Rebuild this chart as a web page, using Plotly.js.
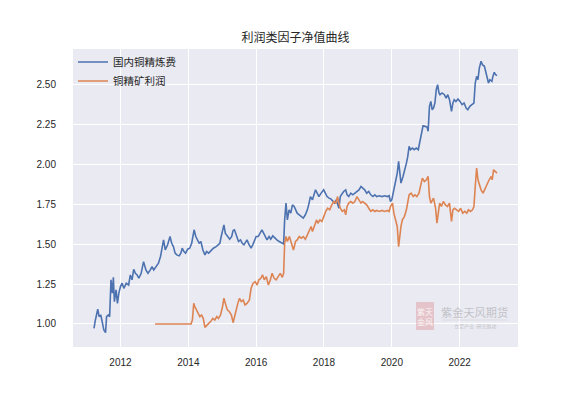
<!DOCTYPE html>
<html>
<head>
<meta charset="utf-8">
<script src="https://cdn.plot.ly/plotly-3.0.1.min.js"></script>
<style>html,body{margin:0;padding:0;background:#fff;}#chart{width:576px;height:396px;}</style>
</head>
<body>
<div id="chart"></div>
<script>
// Dates as decimal years
const refineDates = [2011.22,2011.25,2011.33,2011.37,2011.42,2011.46,2011.51,2011.56,2011.59,2011.64,2011.68,2011.72,2011.76,2011.79,2011.82,2011.87,2011.91,2011.95,2012.00,2012.05,2012.10,2012.17,2012.24,2012.29,2012.34,2012.39,2012.44,2012.49,2012.54,2012.61,2012.68,2012.75,2012.81,2012.88,2012.93,2012.98,2013.04,2013.12,2013.18,2013.27,2013.32,2013.39,2013.46,2013.51,2013.56,2013.61,2013.66,2013.73,2013.78,2013.82,2013.87,2013.92,2013.98,2014.04,2014.10,2014.14,2014.17,2014.22,2014.27,2014.32,2014.37,2014.43,2014.49,2014.54,2014.60,2014.68,2014.74,2014.82,2014.88,2014.93,2014.97,2015.01,2015.05,2015.09,2015.15,2015.22,2015.28,2015.32,2015.36,2015.42,2015.48,2015.54,2015.59,2015.64,2015.68,2015.73,2015.78,2015.85,2015.90,2015.95,2016.00,2016.06,2016.12,2016.17,2016.22,2016.26,2016.32,2016.38,2016.43,2016.49,2016.55,2016.61,2016.68,2016.75,2016.81,2016.84,2016.88,2016.92,2016.97,2017.02,2017.07,2017.12,2017.17,2017.21,2017.27,2017.33,2017.39,2017.45,2017.51,2017.56,2017.60,2017.66,2017.70,2017.75,2017.80,2017.85,2017.90,2017.95,2017.99,2018.04,2018.09,2018.15,2018.21,2018.27,2018.31,2018.36,2018.40,2018.44,2018.48,2018.53,2018.58,2018.64,2018.68,2018.73,2018.79,2018.85,2018.91,2018.97,2019.03,2019.09,2019.14,2019.20,2019.26,2019.32,2019.38,2019.44,2019.50,2019.55,2019.63,2019.71,2019.79,2019.87,2019.92,2019.96,2020.00,2020.04,2020.10,2020.16,2020.20,2020.24,2020.27,2020.33,2020.39,2020.43,2020.47,2020.51,2020.55,2020.61,2020.66,2020.72,2020.78,2020.84,2020.88,2020.92,2020.98,2021.04,2021.07,2021.11,2021.15,2021.19,2021.23,2021.27,2021.31,2021.35,2021.39,2021.42,2021.48,2021.55,2021.60,2021.65,2021.70,2021.76,2021.80,2021.84,2021.89,2021.95,2022.01,2022.07,2022.13,2022.19,2022.24,2022.30,2022.36,2022.42,2022.46,2022.50,2022.54,2022.58,2022.63,2022.67,2022.73,2022.77,2022.82,2022.85,2022.89,2022.95,2022.98,2023.02,2023.06,2023.10];
const refineValues = [0.973,1.015,1.092,1.046,1.056,1.015,0.962,0.946,1.046,1.056,1.046,1.276,1.192,1.292,1.140,1.213,1.129,1.192,1.234,1.255,1.223,1.255,1.244,1.307,1.276,1.342,1.317,1.307,1.286,1.317,1.390,1.338,1.317,1.338,1.359,1.338,1.359,1.380,1.422,1.526,1.463,1.495,1.547,1.505,1.484,1.443,1.432,1.426,1.443,1.474,1.453,1.443,1.468,1.474,1.505,1.547,1.589,1.547,1.526,1.505,1.516,1.463,1.432,1.453,1.443,1.463,1.474,1.484,1.495,1.505,1.547,1.578,1.620,1.568,1.547,1.530,1.547,1.585,1.589,1.547,1.516,1.526,1.505,1.495,1.509,1.526,1.501,1.474,1.495,1.526,1.547,1.547,1.568,1.589,1.568,1.547,1.526,1.547,1.530,1.551,1.537,1.526,1.516,1.505,1.501,1.651,1.756,1.651,1.714,1.693,1.745,1.735,1.714,1.693,1.683,1.672,1.662,1.683,1.714,1.756,1.797,1.777,1.808,1.839,1.818,1.797,1.814,1.829,1.839,1.818,1.797,1.787,1.781,1.766,1.756,1.777,1.745,1.724,1.797,1.818,1.829,1.839,1.808,1.797,1.818,1.808,1.818,1.829,1.839,1.860,1.850,1.839,1.818,1.829,1.808,1.797,1.808,1.797,1.802,1.797,1.802,1.797,1.802,1.766,1.777,1.818,1.860,1.944,2.017,1.944,1.881,1.923,1.965,2.006,2.048,2.111,2.090,2.100,2.090,2.100,2.090,2.152,2.215,2.240,2.236,2.232,2.205,2.361,2.392,2.340,2.351,2.382,2.466,2.497,2.445,2.434,2.445,2.434,2.413,2.434,2.403,2.330,2.382,2.403,2.392,2.407,2.392,2.372,2.382,2.351,2.340,2.361,2.372,2.382,2.507,2.549,2.528,2.601,2.643,2.622,2.612,2.580,2.539,2.507,2.528,2.518,2.549,2.574,2.559,2.553];

const oreDates = [2013.02,2014.08,2014.12,2014.16,2014.19,2014.24,2014.29,2014.34,2014.39,2014.44,2014.49,2014.54,2014.60,2014.66,2014.72,2014.78,2014.84,2014.89,2014.95,2015.01,2015.05,2015.09,2015.15,2015.21,2015.27,2015.32,2015.36,2015.41,2015.46,2015.51,2015.56,2015.62,2015.67,2015.73,2015.80,2015.85,2015.91,2015.97,2016.03,2016.08,2016.14,2016.19,2016.24,2016.30,2016.36,2016.42,2016.47,2016.53,2016.59,2016.65,2016.71,2016.77,2016.81,2016.84,2016.88,2016.92,2016.98,2017.04,2017.10,2017.16,2017.21,2017.27,2017.33,2017.39,2017.45,2017.51,2017.57,2017.62,2017.66,2017.72,2017.78,2017.82,2017.88,2017.94,2017.99,2018.05,2018.11,2018.17,2018.23,2018.29,2018.35,2018.40,2018.44,2018.48,2018.54,2018.60,2018.64,2018.68,2018.73,2018.79,2018.85,2018.91,2018.97,2019.03,2019.09,2019.14,2019.20,2019.26,2019.32,2019.38,2019.44,2019.50,2019.55,2019.63,2019.71,2019.79,2019.87,2019.92,2019.96,2020.02,2020.06,2020.12,2020.16,2020.20,2020.24,2020.27,2020.31,2020.37,2020.43,2020.47,2020.51,2020.57,2020.63,2020.68,2020.74,2020.80,2020.86,2020.90,2020.96,2021.02,2021.07,2021.11,2021.15,2021.19,2021.23,2021.29,2021.33,2021.37,2021.41,2021.46,2021.52,2021.58,2021.64,2021.70,2021.76,2021.80,2021.85,2021.91,2021.97,2022.03,2022.09,2022.15,2022.21,2022.26,2022.32,2022.38,2022.42,2022.46,2022.50,2022.54,2022.58,2022.63,2022.69,2022.75,2022.81,2022.87,2022.93,2022.96,2023.00,2023.04,2023.08,2023.10];
const oreValues = [1.000,1.000,1.025,1.129,1.109,1.088,1.067,1.046,1.056,1.035,0.979,0.994,1.004,1.015,1.035,1.025,1.046,1.035,1.056,1.109,1.161,1.129,1.088,1.077,1.056,1.008,1.046,1.088,1.129,1.161,1.140,1.150,1.119,1.129,1.150,1.223,1.255,1.265,1.244,1.276,1.286,1.307,1.276,1.296,1.244,1.276,1.317,1.286,1.276,1.296,1.317,1.292,1.317,1.505,1.547,1.516,1.547,1.505,1.463,1.516,1.526,1.547,1.537,1.547,1.530,1.557,1.589,1.610,1.578,1.620,1.651,1.630,1.651,1.641,1.672,1.704,1.724,1.714,1.745,1.766,1.756,1.797,1.756,1.724,1.704,1.714,1.683,1.735,1.756,1.766,1.756,1.766,1.797,1.777,1.756,1.766,1.756,1.745,1.724,1.704,1.714,1.704,1.710,1.704,1.710,1.704,1.710,1.704,1.735,1.756,1.693,1.651,1.610,1.484,1.568,1.610,1.651,1.672,1.714,1.777,1.808,1.818,1.797,1.808,1.797,1.818,1.881,1.912,1.891,1.902,1.923,1.797,1.756,1.777,1.787,1.724,1.630,1.693,1.756,1.735,1.766,1.745,1.735,1.756,1.641,1.714,1.724,1.714,1.704,1.724,1.693,1.704,1.693,1.714,1.704,1.714,1.735,1.860,1.975,1.902,1.871,1.839,1.818,1.850,1.881,1.902,1.923,1.902,1.965,1.954,1.948,1.944];

const seriesNames = ['国内铜精炼费', '铜精矿利润'];
const chartTitle = '利润类因子净值曲线';
const xTickVals = [2012, 2014, 2016, 2018, 2020, 2022];
const xTickText = ['2012', '2014', '2016', '2018', '2020', '2022'];
const yTickVals = [1.00, 1.25, 1.50, 1.75, 2.00, 2.25, 2.50];
const yTickText = ['1.00', '1.25', '1.50', '1.75', '2.00', '2.25', '2.50'];

const cjk = '"Noto Sans CJK SC", "Liberation Sans", sans-serif';

const traces = [
  {x: refineDates, y: refineValues, name: seriesNames[0], type: 'scatter', mode: 'lines',
   line: {color: '#4C72B0', width: 1.6}},
  {x: oreDates, y: oreValues, name: seriesNames[1], type: 'scatter', mode: 'lines',
   line: {color: '#DD8452', width: 1.6}}
];

const layout = {
  width: 576, height: 396,
  margin: {l: 73, r: 58, t: 49, b: 49},
  paper_bgcolor: '#ffffff',
  plot_bgcolor: '#EAEAF2',
  font: {family: cjk, size: 10, color: '#262626'},
  title: {text: chartTitle, x: 0.513, xanchor: 'center', y: 0.904, yanchor: 'middle',
          font: {family: cjk, size: 12, color: '#262626'}},
  showlegend: true,
  legend: {x: 0.0, y: 1.005, xanchor: 'left', yanchor: 'top', bgcolor: 'rgba(0,0,0,0)',
           borderwidth: 0, font: {family: cjk, size: 10.5, color: '#262626'}, tracegroupgap: 0},
  xaxis: {range: [2010.6, 2023.72], tickvals: xTickVals, ticktext: xTickText,
          showgrid: true, gridcolor: '#ffffff', gridwidth: 1, zeroline: false, showline: false,
          ticks: '', ticklabelstandoff: 8,
          tickfont: {family: '"Liberation Sans", Arial, sans-serif', size: 10, color: '#262626'}},
  yaxis: {range: [0.856, 2.72], tickvals: yTickVals, ticktext: yTickText,
          showgrid: true, gridcolor: '#ffffff', gridwidth: 1, zeroline: false, showline: false,
          ticks: '', ticklabelstandoff: 16,
          tickfont: {family: '"Liberation Sans", Arial, sans-serif', size: 10, color: '#262626'}},
  shapes: [
    {type: 'rect', xref: 'paper', yref: 'paper',
     x0: (416-73)/445, x1: (434-73)/445, y0: (347-330)/298, y1: (347-302)/298,
     fillcolor: 'rgba(214,110,110,0.30)', line: {width: 0}, layer: 'above'},
    {type: 'line', xref: 'paper', yref: 'paper',
     x0: (442-73)/445, x1: (507-73)/445, y0: (347-320)/298, y1: (347-320)/298,
     line: {color: 'rgba(200,200,200,0.7)', width: 0.6}, layer: 'above'}
  ],
  annotations: [
    {text: '紫天<br>金风', xref: 'paper', yref: 'paper', x: (425-73)/445, y: (347-316)/298,
     xanchor: 'center', yanchor: 'middle', showarrow: false,
     font: {family: cjk, size: 8, color: 'rgba(255,255,255,0.85)'}},
    {text: '紫金天风期货', xref: 'paper', yref: 'paper', x: (474.5-73)/445, y: (347-312)/298,
     xanchor: 'center', yanchor: 'middle', showarrow: false,
     font: {family: cjk, size: 11.2, color: 'rgba(185,185,190,0.85)'}},
    {text: '立足产业  研究驱动', xref: 'paper', yref: 'paper', x: (474.5-73)/445, y: (347-326)/298,
     xanchor: 'center', yanchor: 'middle', showarrow: false,
     font: {family: cjk, size: 5, color: 'rgba(185,185,190,0.85)'}}
  ]
};

Plotly.newPlot('chart', traces, layout, {displayModeBar: false, staticPlot: true});
</script>
</body>
</html>
